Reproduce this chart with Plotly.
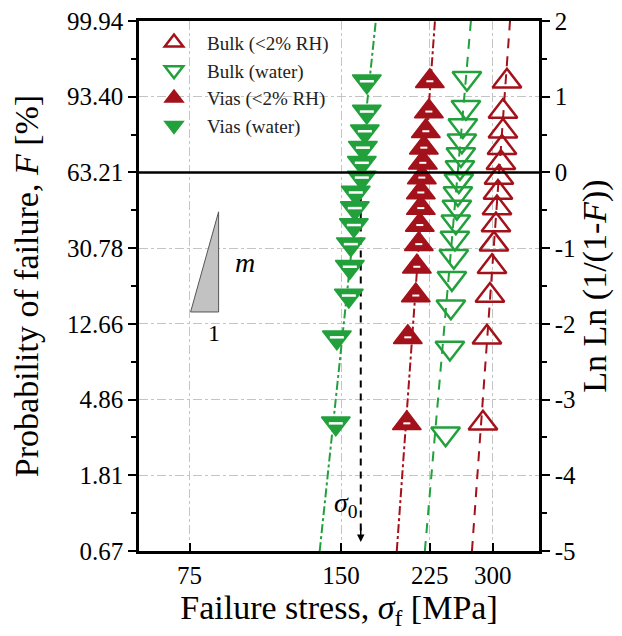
import numpy as np
import plotly.graph_objects as go

# ---------------- data ----------------
# Weibull ordinate ln ln(1/(1-F)) for each ranked specimen
lnln_14 = [-3.314, -2.178, -1.626, -1.246, -0.947, -0.695, -0.471,
           -0.265, -0.068, 0.127, 0.327, 0.544, 0.804, 1.204]
lnln_16 = [-3.450, -2.318, -1.773, -1.399, -1.108, -0.865, -0.651, -0.458,
           -0.278, -0.105, 0.066, 0.238, 0.419, 0.619, 0.862, 1.243]

bulk_dry_stress = [287.0, 292.3, 296.3, 299.1, 301.8, 304.6, 306.0,
                   307.4, 308.8, 311.6, 313.1, 314.5, 314.5, 320.3]
bulk_wet_stress = [241.9, 246.7, 247.8, 249.0, 251.2, 252.4, 253.5, 254.7,
                   255.9, 257.0, 258.3, 259.4, 260.6, 261.8, 265.5, 266.7]
vias_dry_stress = [202.6, 203.5, 211.1, 212.1, 214.0, 215.0, 216.0,
                   216.0, 217.0, 218.0, 219.0, 221.0, 224.1, 225.1]
vias_wet_stress = [146.4, 147.1, 155.4, 156.1, 156.8, 159.0, 159.7,
                   160.4, 164.9, 164.9, 165.7, 167.2, 168.7, 168.7]

# Weibull fit lines: stress at ln ln = -5 and at ln ln = 2
fit_y = [-5, 2]
fit_bulk_dry = [272.9, 324.8]
fit_bulk_wet = [220.0, 271.6]
fit_vias_dry = [193.5, 230.4]
fit_vias_wet = [136.0, 175.8]

sigma0_vias_wet = 164.1

x_ticks = [75, 150, 225, 300]
y_ticks = [-5, -4, -3, -2, -1, 0, 1, 2]
prob_labels = ["0.67", "1.81", "4.86", "12.66", "30.78", "63.21", "93.40", "99.94"]
lnln_labels = ["-5", "-4", "-3", "-2", "-1", "0", "1", "2"]
minor_ticks = [-4.5, -3.5, -2.5, -1.5, -0.5, 0.5, 1.5]

labels = ["Bulk (<2% RH)", "Bulk (water)", "Vias (<2% RH)", "Vias (water)"]

# ---------------- styling ----------------
RED = "#a3121a"
GREEN = "#22a03c"
FONT = "Liberation Serif, Times New Roman, serif"
MS = 25

fig = go.Figure()

# fit lines
fig.add_trace(go.Scatter(x=fit_vias_wet, y=fit_y, mode="lines",
                         line=dict(color=GREEN, width=2, dash="dashdot"),
                         showlegend=False, hoverinfo="skip"))
fig.add_trace(go.Scatter(x=fit_vias_dry, y=fit_y, mode="lines",
                         line=dict(color=RED, width=2, dash="dashdot"),
                         showlegend=False, hoverinfo="skip"))
fig.add_trace(go.Scatter(x=fit_bulk_wet, y=fit_y, mode="lines",
                         line=dict(color=GREEN, width=2, dash="10px,8px"),
                         showlegend=False, hoverinfo="skip"))
fig.add_trace(go.Scatter(x=fit_bulk_dry, y=fit_y, mode="lines",
                         line=dict(color=RED, width=2, dash="10px,8px"),
                         showlegend=False, hoverinfo="skip"))

# sigma_0 dashed drop line
fig.add_trace(go.Scatter(x=[sigma0_vias_wet, sigma0_vias_wet], y=[0, -4.75],
                         mode="lines", line=dict(color="black", width=2, dash="7px,6px"),
                         showlegend=False, hoverinfo="skip"))

# data markers (draw order chosen so green sits above red)
fig.add_trace(go.Scatter(x=bulk_dry_stress, y=lnln_14, mode="markers", name=labels[0],
                         legendrank=1,
                         marker=dict(symbol="triangle-up-open", size=MS, color=RED,
                                     line=dict(width=2.5, color=RED))))
fig.add_trace(go.Scatter(x=vias_dry_stress, y=lnln_14, mode="markers", name=labels[2],
                         legendrank=3,
                         marker=dict(symbol="triangle-up", size=MS, color=RED,
                                     line=dict(width=1.5, color=RED))))
fig.add_trace(go.Scatter(x=vias_dry_stress, y=lnln_14, mode="markers", showlegend=False,
                         hoverinfo="skip",
                         marker=dict(symbol="line-ew", size=5, color="white",
                                     line=dict(width=2, color="white"))))
fig.add_trace(go.Scatter(x=bulk_wet_stress, y=lnln_16, mode="markers", name=labels[1],
                         legendrank=2,
                         marker=dict(symbol="triangle-down-open", size=MS, color=GREEN,
                                     line=dict(width=2.5, color=GREEN))))
fig.add_trace(go.Scatter(x=vias_wet_stress, y=lnln_14, mode="markers", name=labels[3],
                         legendrank=4,
                         marker=dict(symbol="triangle-down", size=MS, color=GREEN,
                                     line=dict(width=1.5, color=GREEN))))
fig.add_trace(go.Scatter(x=vias_wet_stress, y=lnln_14, mode="markers", showlegend=False,
                         hoverinfo="skip",
                         marker=dict(symbol="line-ew", size=10, color="white",
                                     line=dict(width=2.5, color="white"))))

# dummy trace to activate the right-hand axis
fig.add_trace(go.Scatter(x=[x_ticks[1]], y=[0], yaxis="y2", mode="markers",
                         marker=dict(opacity=0), showlegend=False, hoverinfo="skip"))

# horizontal solid line at ln ln = 0 (F = 63.21 %)
fig.add_shape(type="line", xref="paper", x0=0, x1=1, yref="y", y0=0, y1=0,
              line=dict(color="black", width=2.5))

# slope triangle (m over 1)
fig.add_shape(type="path", xref="paper", yref="paper",
              path="M 0.129 0.451 L 0.199 0.451 L 0.199 0.640 Z",
              fillcolor="#c2c2c2", line=dict(color="#555555", width=1))

fig.add_annotation(xref="paper", yref="paper", x=0.236, y=0.545, text="<i>m</i>",
                   showarrow=False, font=dict(family=FONT, size=28, color="black"))
fig.add_annotation(xref="paper", yref="paper", x=0.168, y=0.411, text="1",
                   showarrow=False, font=dict(family=FONT, size=24, color="black"))

# sigma_0 label and arrow head
fig.add_annotation(xref="x", yref="y", x=np.log10(153.2), y=-4.39,
                   text="<i>σ</i><sub>0</sub>", showarrow=False,
                   font=dict(family=FONT, size=28, color="black"))
fig.add_annotation(xref="x", yref="y", x=np.log10(sigma0_vias_wet), y=-4.88,
                   ax=0, ay=-16, text="", showarrow=True, arrowhead=2,
                   arrowsize=1, arrowwidth=1.5, arrowcolor="black")

axis_common = dict(showline=True, linecolor="black", linewidth=2.5,
                   tickcolor="black", tickwidth=2, ticklen=8,
                   tickfont=dict(family=FONT, size=25, color="black"),
                   ticklabeloverflow="allow", zeroline=False)

# the html page adds an 8px body margin, so the figure is 8px smaller
fig.update_layout(
    width=614, height=628,
    margin=dict(l=131, r=83, t=13, b=85),
    paper_bgcolor="white", plot_bgcolor="white",
    font=dict(family=FONT, color="black"),
    showlegend=True,
    legend=dict(x=0.005, y=0.995, xanchor="left", yanchor="top",
                bgcolor="rgba(0,0,0,0)", borderwidth=0,
                font=dict(family=FONT, size=19, color="#222222"),
                tracegroupgap=0, itemsizing="trace", itemwidth=56),
    xaxis=dict(type="log", range=[1.7746, 2.5692], tickvals=x_ticks,
               ticktext=[str(v) for v in x_ticks], ticks="inside",
               mirror=True, showgrid=True, gridcolor="#c4c4c4", griddash="dashdot",
               gridwidth=1,
               title=dict(text="Failure stress, <i>σ</i><sub>f</sub> [MPa]",
                          font=dict(family=FONT, size=34, color="black"), standoff=6),
               automargin=False, **axis_common),
    yaxis=dict(range=[-5, 2], tickvals=y_ticks, ticktext=prob_labels, ticks="outside",
               showgrid=True, gridcolor="#c4c4c4", griddash="dashdot", gridwidth=1,
               minor=dict(tickvals=minor_ticks, ticks="outside", ticklen=5,
                          tickcolor="black", tickwidth=2, showgrid=False),
               title=dict(text="Probability of failure, <i>F</i> [%]",
                          font=dict(family=FONT, size=34, color="black"), standoff=26),
               automargin=False, **axis_common),
    yaxis2=dict(range=[-5, 2], overlaying="y", side="right", tickvals=y_ticks,
                ticktext=lnln_labels, ticks="outside", showgrid=False,
                minor=dict(tickvals=minor_ticks, ticks="outside", ticklen=5,
                           tickcolor="black", tickwidth=2, showgrid=False),
                title=dict(text="Ln Ln (1/(1-<i>F</i>))",
                           font=dict(family=FONT, size=34, color="black"), standoff=4),
                automargin=False, **axis_common),
)

fig.write_html("out.html")
